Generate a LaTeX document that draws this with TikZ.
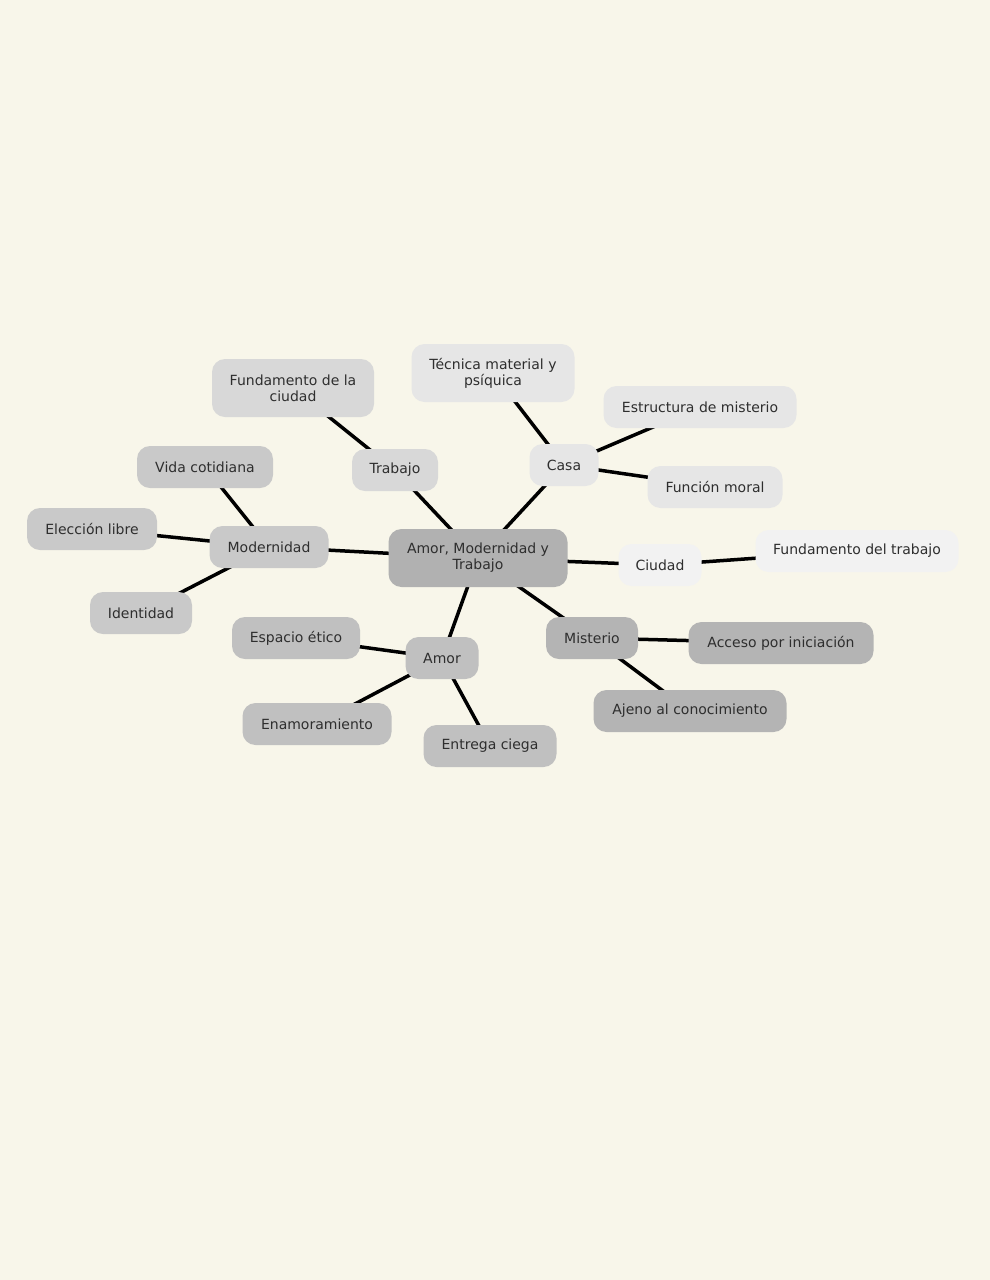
\documentclass[tikz,border=0pt]{standalone}
\usepackage{fontspec}
\setmainfont{DejaVu Sans}
\definecolor{paper}{HTML}{F8F6EA}
\definecolor{txt}{HTML}{2E2E2E}
\definecolor{cCenter}{HTML}{B1B1B1}
\definecolor{cMod}{HTML}{C9C9C9}
\definecolor{cTrab}{HTML}{D8D8D8}
\definecolor{cCasa}{HTML}{E6E6E6}
\definecolor{cCiud}{HTML}{F2F2F2}
\definecolor{cMist}{HTML}{B4B4B4}
\definecolor{cAmor}{HTML}{C0C0C0}
\pgfdeclarelayer{bg}
\pgfsetlayers{bg,main}
\tikzset{
  box/.style={rounded corners=13pt, minimum height=42pt, inner sep=3pt,
    font=\fontsize{14}{16}\selectfont, text=txt, align=center},
  link/.style={line width=3.5pt, black},
}
\begin{document}
\begin{tikzpicture}[x=1pt,y=-1pt]
\begin{pgfonlayer}{bg}
\fill[paper] (0,0) rectangle (990,1280);
\end{pgfonlayer}
\useasboundingbox (0,0) rectangle (990,1280);

% centre
\node[box, fill=cCenter, minimum width=179pt, minimum height=58pt] (c) at (478,558) {Amor, Modernidad y\\Trabajo};

% Modernidad group
\node[box, fill=cMod, minimum width=119pt] (mod) at (269,547) {Modernidad};
\node[box, fill=cMod, minimum width=136pt] (vida) at (205,467) {Vida cotidiana};
\node[box, fill=cMod, minimum width=130pt] (elec) at (92,529) {Elección libre};
\node[box, fill=cMod, minimum width=102pt] (iden) at (141,613) {Identidad};

% Trabajo group
\node[box, fill=cTrab, minimum width=86pt] (trab) at (395,470) {Trabajo};
\node[box, fill=cTrab, minimum width=162pt, minimum height=58pt] (fciud) at (293,388) {Fundamento de la\\ciudad};

% Casa group
\node[box, fill=cCasa, minimum width=69pt] (casa) at (564,465) {Casa};
\node[box, fill=cCasa, minimum width=163pt, minimum height=58pt] (tec) at (493,373) {Técnica material y\\psíquica};
\node[box, fill=cCasa, minimum width=193pt] (estr) at (700,407) {Estructura de misterio};
\node[box, fill=cCasa, minimum width=135pt] (func) at (715,487) {Función moral};

% Ciudad group
\node[box, fill=cCiud, minimum width=83pt] (ciud) at (660,565) {Ciudad};
\node[box, fill=cCiud, minimum width=203pt] (ftrab) at (857,551) {Fundamento del trabajo};

% Misterio group
\node[box, fill=cMist, minimum width=92pt] (mist) at (592,638) {Misterio};
\node[box, fill=cMist, minimum width=185pt] (acc) at (781,643) {Acceso por iniciación};
\node[box, fill=cMist, minimum width=193pt] (ajen) at (690,711) {Ajeno al conocimiento};

% Amor group
\node[box, fill=cAmor, minimum width=73pt] (amor) at (442,658) {Amor};
\node[box, fill=cAmor, minimum width=128pt] (esp) at (296,638) {Espacio ético};
\node[box, fill=cAmor, minimum width=149pt] (enam) at (317,724) {Enamoramiento};
\node[box, fill=cAmor, minimum width=133pt] (entr) at (490,746) {Entrega ciega};

\begin{pgfonlayer}{bg}
\draw[link] (c.center) -- (mod.center);
\draw[link] (c.center) -- (trab.center);
\draw[link] (c.center) -- (casa.center);
\draw[link] (c.center) -- (ciud.center);
\draw[link] (c.center) -- (mist.center);
\draw[link] (c.center) -- (amor.center);
\draw[link] (mod.center) -- (vida.center);
\draw[link] (mod.center) -- (elec.center);
\draw[link] (mod.center) -- (iden.center);
\draw[link] (trab.center) -- (fciud.center);
\draw[link] (casa.center) -- (tec.center);
\draw[link] (casa.center) -- (estr.center);
\draw[link] (casa.center) -- (func.center);
\draw[link] (ciud.center) -- (ftrab.center);
\draw[link] (mist.center) -- (acc.center);
\draw[link] (mist.center) -- (ajen.center);
\draw[link] (amor.center) -- (esp.center);
\draw[link] (amor.center) -- (enam.center);
\draw[link] (amor.center) -- (entr.center);
\end{pgfonlayer}
\end{tikzpicture}
\end{document}
